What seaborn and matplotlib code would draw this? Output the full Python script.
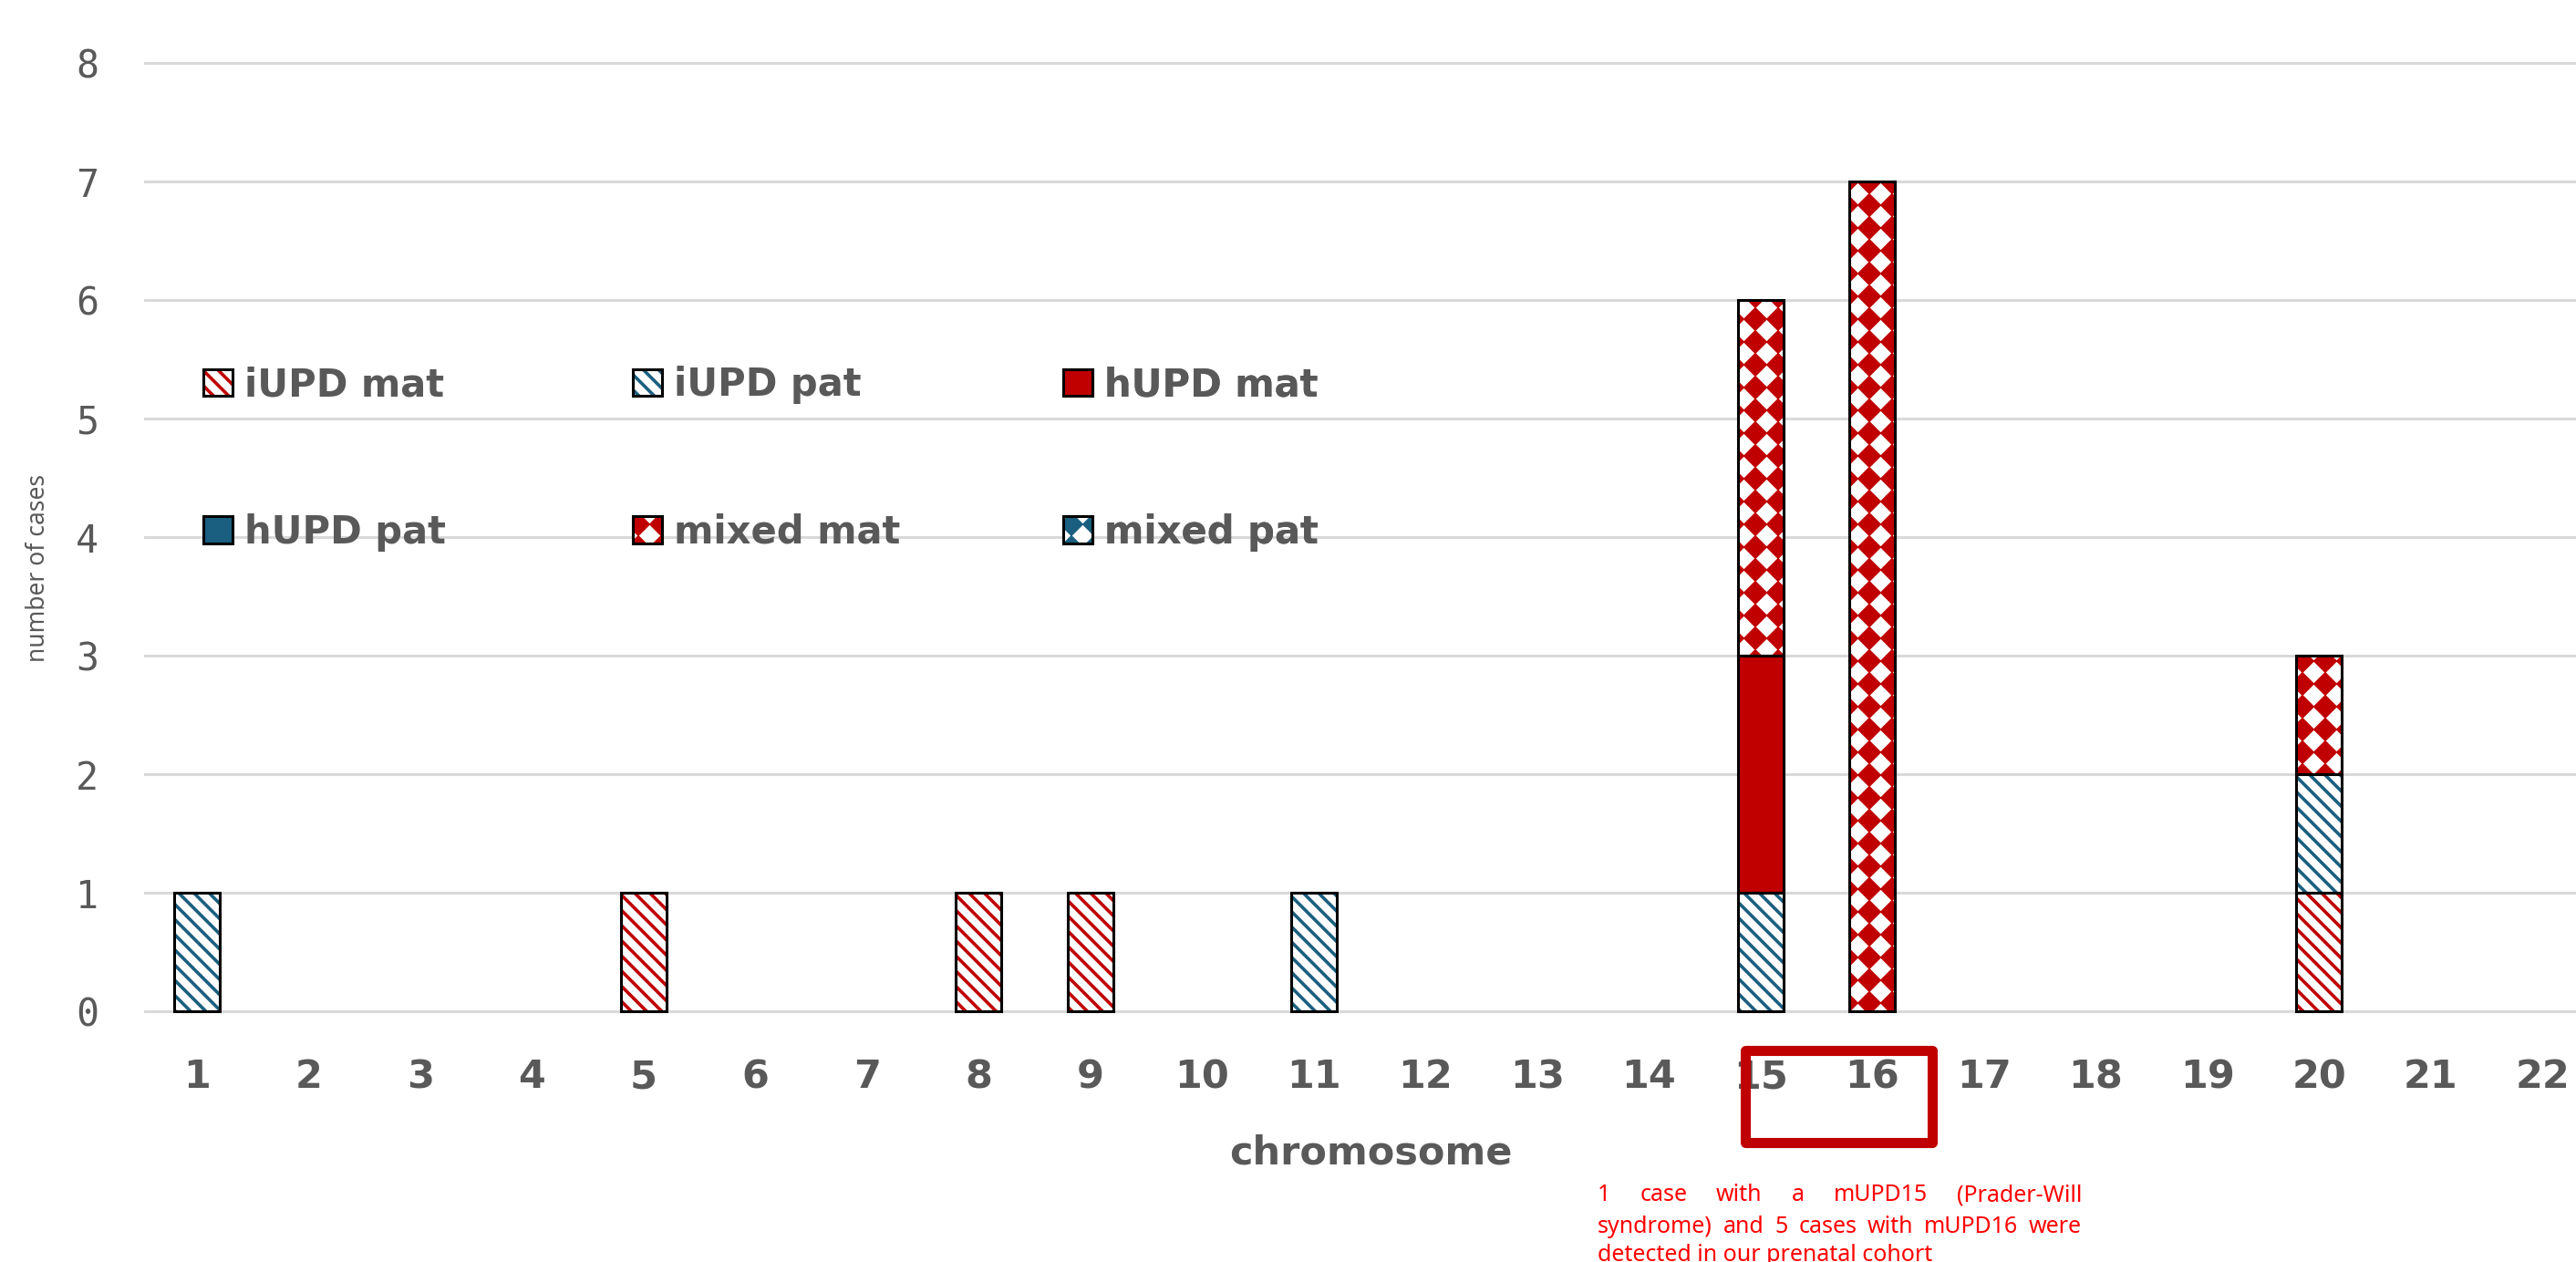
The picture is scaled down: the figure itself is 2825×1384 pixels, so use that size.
import seaborn as sns
import matplotlib.pyplot as plt
import matplotlib.hatch as mhatch
from matplotlib.path import Path
from matplotlib.patches import Patch, Rectangle
from matplotlib import font_manager
import pandas as pd
import numpy as np

sns.set_theme(style="white")
plt.rcParams['hatch.linewidth'] = 2.6

chromosomes = [str(i) for i in range(1, 23)]
iupd_mat = [0, 0, 0, 0, 1, 0, 0, 1, 1, 0, 0, 0, 0, 0, 0, 0, 0, 0, 0, 1, 0, 0]
iupd_pat = [1, 0, 0, 0, 0, 0, 0, 0, 0, 0, 1, 0, 0, 0, 1, 0, 0, 0, 0, 1, 0, 0]
hupd_mat = [0, 0, 0, 0, 0, 0, 0, 0, 0, 0, 0, 0, 0, 0, 2, 0, 0, 0, 0, 0, 0, 0]
hupd_pat = [0, 0, 0, 0, 0, 0, 0, 0, 0, 0, 0, 0, 0, 0, 0, 0, 0, 0, 0, 0, 0, 0]
mixed_mat = [0, 0, 0, 0, 0, 0, 0, 0, 0, 0, 0, 0, 0, 0, 3, 7, 0, 0, 0, 1, 0, 0]
mixed_pat = [0, 0, 0, 0, 0, 0, 0, 0, 0, 0, 0, 0, 0, 0, 0, 0, 0, 0, 0, 0, 0, 0]

series_names = ["iUPD mat", "iUPD pat", "hUPD mat", "hUPD pat", "mixed mat", "mixed pat"]

RED = "#C00000"
BLUE = "#1B5F80"
GREY = "#595959"

# (hatch colour, face colour, hatch)
styles = {
    "iUPD mat": (RED, "white", "\\\\"),
    "iUPD pat": (BLUE, "white", "\\\\"),
    "hUPD mat": (RED, RED, None),
    "hUPD pat": (BLUE, BLUE, None),
    "mixed mat": (RED, "white", "*"),
    "mixed pat": (BLUE, "white", "*"),
}


# '*' hatch -> square grid of filled diamonds instead of stars
class Diamonds(mhatch.HatchPatternBase):
    size = 0.43

    def __init__(self, hatch, density):
        self.num_rows = hatch.count('*') * 4
        poly = Path.unit_regular_polygon(4)
        self.shape_vertices = poly.vertices
        self.shape_codes = poly.codes
        self.num_vertices = (self.num_rows + 1) ** 2 * len(poly.vertices) if self.num_rows else 0

    def set_vertices_and_codes(self, vertices, codes):
        step = 1.0 / self.num_rows
        shape = self.shape_vertices * step * self.size
        n = len(shape)
        i = 0
        for row in range(self.num_rows + 1):
            for col in range(self.num_rows + 1):
                vertices[i:i + n] = shape + (col * step, row * step)
                codes[i:i + n] = self.shape_codes
                i += n


mhatch._hatch_types = [t for t in mhatch._hatch_types if t is not mhatch.Stars] + [Diamonds]

df = pd.DataFrame({"chromosome": chromosomes,
                   "iUPD mat": iupd_mat, "iUPD pat": iupd_pat,
                   "hUPD mat": hupd_mat, "hUPD pat": hupd_pat,
                   "mixed mat": mixed_mat, "mixed pat": mixed_pat})

W, H = 2825, 1384
fig = plt.figure(figsize=(W / 100, H / 100), dpi=100)
ax = fig.add_axes([158 / W, 0.1968, 1 - 158 / W, 0.755])

bottom = np.zeros(len(chromosomes))
for name in series_names:
    hcol, face, hatch = styles[name]
    sns.barplot(data=df, x="chromosome", y=name, order=chromosomes, bottom=bottom,
                color=face, saturation=1, hatch=hatch, edgecolor=hcol, linewidth=0,
                width=0.41, errorbar=None, ax=ax, zorder=2)
    sns.barplot(data=df, x="chromosome", y=name, order=chromosomes, bottom=bottom,
                color="black", saturation=1, facecolor="none", edgecolor="black", linewidth=2.2,
                width=0.41, errorbar=None, ax=ax, zorder=3)
    for p in ax.containers[-1]:
        if p.get_height() == 0:
            p.set_visible(False)
    bottom = bottom + df[name].values

ax.set_xlim(-0.473, 21.3)
ax.set_ylim(-0.02, 8.02)
ax.set_yticks(range(0, 9))
ax.yaxis.grid(True, color="#D9D9D9", linewidth=2.2)
ax.xaxis.grid(False)
ax.set_axisbelow(True)
sns.despine(ax=ax, left=True, bottom=True)
ax.tick_params(axis="both", length=0)
ax.tick_params(axis="y", pad=36, labelsize=30, labelcolor=GREY)
ax.tick_params(axis="x", pad=35, labelsize=31, labelcolor=GREY)
for t in ax.get_yticklabels():
    t.set_fontfamily("DejaVu Sans Mono")
for t in ax.get_xticklabels():
    t.set_fontweight("bold")
    t.set_fontfamily("DejaVu Sans")

ax.set_xlabel("chromosome", fontsize=31, fontweight="bold", color=GREY, family="DejaVu Sans")
ax.xaxis.set_label_coords(0.5043, -0.158)
ax.xaxis.label.set_va("baseline")

installed = {f.name for f in font_manager.fontManager.ttflist}
if "Liberation Sans Narrow" in installed:
    yl_font, yl_size = "Liberation Sans Narrow", 24
else:
    yl_font, yl_size = "Noto Sans", 19
ax.set_ylabel("number of cases", fontsize=yl_size, color=GREY, family=yl_font)
ax.yaxis.set_label_coords(-0.0435, 0.468)
ax.yaxis.label.set_va("center")

# legend: three columns, each its own legend so the x positions can be set
handles = {}
for name in series_names:
    hcol, face, hatch = styles[name]
    handles[name] = (Patch(facecolor=face, edgecolor=hcol, hatch=hatch, linewidth=0),
                     Patch(facecolor="none", edgecolor="black", linewidth=2.2))
leg_cols = [["iUPD mat", "hUPD pat"], ["iUPD pat", "mixed mat"], ["hUPD mat", "mixed pat"]]
leg_x = [223, 694, 1166]
for col, lx in zip(leg_cols, leg_x):
    leg = ax.legend([handles[n] for n in col], col, frameon=False,
                    loc="upper left", bbox_to_anchor=(lx / W, 1 - 401 / H),
                    bbox_transform=fig.transFigure, borderpad=0, borderaxespad=0,
                    handlelength=0.77, handleheight=0.72, handletextpad=0.31,
                    labelspacing=2.87,
                    prop={"family": "DejaVu Sans", "weight": "bold", "size": 30})
    for t in leg.get_texts():
        t.set_color(GREY)
    ax.add_artist(leg)

# red box around 15 / 16
fig.patches.append(Rectangle((1913.5 / W, 1 - 1252.5 / H), 205 / W, 101 / H,
                             transform=fig.transFigure, fill=False, edgecolor=RED,
                             linewidth=8, joinstyle="round"))

# justified note
note_lines = [["1", "case", "with", "a", "mUPD15", "(Prader-Will"],
              ["syndrome)", "and", "5", "cases", "with", "mUPD16", "were"]]
note_last = "detected in our prenatal cohort"
baselines = [1317, 1352, 1383]
x_left, x_right = 1752, 2283
note_kw = dict(fontsize=18, color="#FF0000", family="Noto Sans", va="baseline")

renderer = fig.canvas.get_renderer()
for words, b in zip(note_lines, baselines):
    arts = [fig.text(0, 1 - b / H, w, **note_kw) for w in words]
    widths = [a.get_window_extent(renderer).width for a in arts]
    gap = (x_right - x_left - sum(widths)) / (len(words) - 1)
    x = x_left
    for a, w in zip(arts, widths):
        a.set_x(x / W)
        x += w + gap
fig.text(x_left / W, 1 - baselines[2] / H, note_last, **note_kw)

fig.savefig("out.png", dpi=100)
